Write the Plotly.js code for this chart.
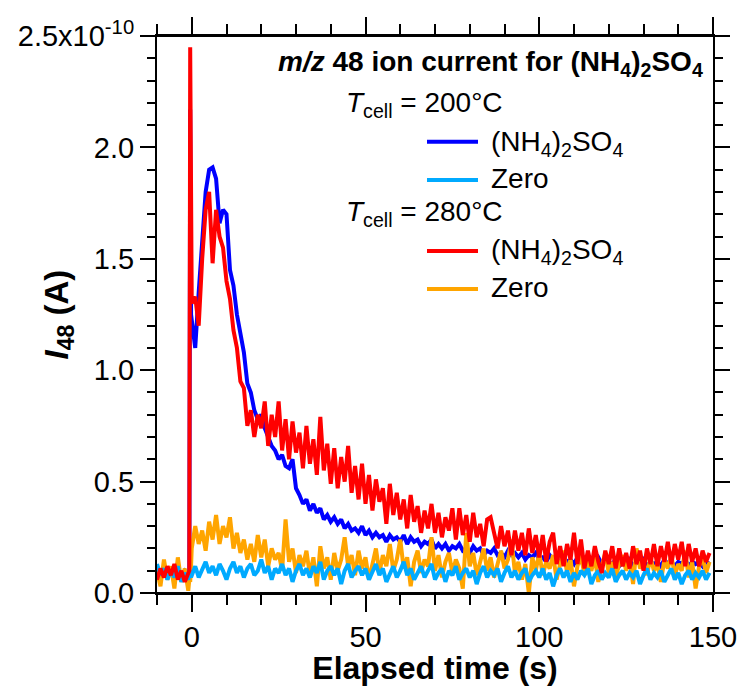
<!DOCTYPE html>
<html>
<head>
<meta charset="utf-8">
<script src="https://cdn.plot.ly/plotly-3.0.1.min.js"></script>
<style>html,body{margin:0;padding:0;background:#fff;}</style>
</head>
<body>
<div id="chart" style="width:740px;height:686px;"></div>
<script>
// Elapsed time (s)
const time = [-10,-9,-8,-7,-6,-5,-4,-3,-2,-1,-0.7,-0.45,-0.2,
0,1,2,3,4,5,6,7,8,9,10,11,12,13,14,15,16,17,18,19,20,21,22,23,24,25,26,27,28,29,
30,31,32,33,34,35,36,37,38,39,40,41,42,43,44,45,46,47,48,49,50,51,52,53,54,55,56,57,58,59,
60,61,62,63,64,65,66,67,68,69,70,71,72,73,74,75,76,77,78,79,80,81,82,83,84,85,86,87,88,89,
90,91,92,93,94,95,96,97,98,99,100,101,102,103,104,105,106,107,108,109,110,111,112,113,114,115,116,117,118,119,
120,121,122,123,124,125,126,127,128,129,130,131,132,133,134,135,136,137,138,139,140,141,142,143,144,145,146,147,148,149];

// I48 in units of 1e-10 A
const sulfate200 = [0.09,0.07,0.10,0.08,0.11,0.07,0.09,0.08,0.10,0.08,
0.09,2.17,1.25,
1.22,1.10,1.35,1.55,1.80,1.90,1.91,1.86,1.66,1.72,
1.70,1.45,1.38,1.25,1.16,1.08,0.94,0.90,0.82,0.78,
0.80,0.74,0.70,0.66,0.64,0.60,0.62,0.57,0.56,0.60,
0.47,0.44,0.40,0.42,0.37,0.40,0.36,0.38,0.33,0.35,
0.32,0.34,0.31,0.33,0.29,0.31,0.28,0.29,0.27,0.30,
0.26,0.28,0.25,0.27,0.25,0.26,0.23,0.26,0.24,0.25,
0.23,0.26,0.22,0.25,0.23,0.24,0.21,0.23,0.22,0.24,
0.20,0.22,0.20,0.22,0.19,0.21,0.20,0.22,0.19,0.20,
0.18,0.21,0.19,0.20,0.17,0.19,0.18,0.20,0.17,0.18,
0.16,0.19,0.17,0.18,0.16,0.18,0.15,0.17,0.16,0.18,
0.15,0.16,0.14,0.17,0.15,0.16,0.13,0.16,0.14,0.15,
0.13,0.16,0.14,0.15,0.13,0.15,0.14,0.16,0.13,0.15,
0.14,0.13,0.15,0.12,0.14,0.13,0.15,0.12,0.14,0.13,
0.15,0.12,0.14,0.13,0.14,0.12,0.15,0.13,0.14,0.12,
0.14,0.13,0.15,0.12,0.14,0.13,0.14,0.12,0.14,0.13];

const zero200 = [0.13,0.08,0.11,0.06,0.10,0.07,0.12,0.05,0.09,0.06,
0.08,0.10,0.07,
0.08,0.12,0.07,0.11,0.14,0.09,0.12,0.08,0.13,0.10,
0.06,0.11,0.14,0.09,0.12,0.07,0.11,0.13,0.08,0.10,
0.15,0.09,0.12,0.06,0.11,0.09,0.13,0.08,0.11,0.05,
0.10,0.13,0.08,0.11,0.07,0.12,0.09,0.14,0.06,0.10,
0.12,0.08,0.11,0.04,0.10,0.13,0.07,0.10,0.12,0.08,
0.11,0.06,0.10,0.13,0.08,0.11,0.05,0.09,0.12,0.07,
0.10,0.14,0.08,0.11,0.06,0.09,0.12,0.07,0.10,0.13,
0.06,0.09,0.11,0.05,0.10,0.08,0.12,0.06,0.09,0.11,
0.07,0.10,0.04,0.09,0.12,0.07,0.10,0.08,0.11,0.05,
0.09,0.12,0.07,0.10,0.06,0.09,0.11,0.05,0.08,0.10,
0.07,0.11,0.06,0.09,0.03,0.08,0.11,0.07,0.10,0.05,
0.09,0.06,0.10,0.08,0.11,0.04,0.08,0.10,0.06,0.09,
0.07,0.11,0.05,0.08,0.10,0.06,0.09,0.07,0.10,0.04,
0.08,0.11,0.06,0.09,0.07,0.10,0.05,0.08,0.11,0.06,
0.09,0.04,0.08,0.10,0.06,0.09,0.07,0.10,0.06,0.09];

const sulfate280 = [0.06,0.11,0.07,0.12,0.08,0.13,0.06,0.10,0.05,0.09,
0.10,2.45,1.35,
1.30,1.33,1.20,1.50,1.72,1.80,1.48,1.72,1.60,1.55,
1.40,1.32,1.18,1.10,0.95,0.92,0.75,0.82,0.70,0.80,
0.74,0.86,0.66,0.80,0.70,0.86,0.64,0.78,0.60,0.77,
0.63,0.72,0.56,0.75,0.58,0.69,0.53,0.79,0.55,0.67,
0.49,0.65,0.47,0.61,0.50,0.66,0.45,0.57,0.42,0.58,
0.40,0.53,0.37,0.51,0.41,0.47,0.31,0.49,0.35,0.45,
0.33,0.42,0.29,0.44,0.32,0.39,0.27,0.37,0.29,0.40,
0.27,0.36,0.25,0.34,0.28,0.38,0.24,0.38,0.26,0.35,
0.23,0.36,0.25,0.31,0.21,0.33,0.34,0.27,0.20,0.30,
0.21,0.28,0.17,0.28,0.19,0.27,0.17,0.29,0.18,0.26,
0.16,0.26,0.14,0.23,0.27,0.13,0.21,0.12,0.22,0.15,
0.27,0.13,0.24,0.11,0.19,0.12,0.21,0.14,0.09,0.19,
0.13,0.21,0.11,0.20,0.12,0.18,0.11,0.21,0.13,0.19,
0.10,0.20,0.13,0.22,0.12,0.21,0.14,0.23,0.13,0.22,
0.15,0.23,0.12,0.22,0.14,0.20,0.12,0.19,0.14,0.18];

const zero280 = [0.10,0.03,0.15,0.06,0.12,0.02,0.16,0.05,0.11,0.01,
0.06,0.05,0.12,
0.20,0.30,0.22,0.28,0.19,0.32,0.24,0.35,0.22,0.30,
0.25,0.34,0.20,0.27,0.18,0.24,0.15,0.22,0.14,0.26,
0.16,0.24,0.12,0.20,0.15,0.18,0.10,0.33,0.14,0.20,
0.09,0.17,0.12,0.19,0.08,0.16,0.03,0.21,0.11,0.16,
0.06,0.18,0.10,0.15,0.25,0.12,0.17,0.08,0.19,0.11,
0.16,0.06,0.14,0.20,0.09,0.17,0.12,0.22,0.10,0.15,
0.24,0.11,0.16,0.03,0.14,0.19,0.09,0.15,0.12,0.25,
0.10,0.17,0.07,0.14,0.18,0.09,0.15,0.11,0.02,0.27,
0.12,0.18,0.08,0.15,0.20,0.10,0.16,0.07,0.14,0.19,
0.11,0.15,0.24,0.09,0.14,0.06,0.13,0.00,0.16,0.10,
0.18,0.08,0.14,0.11,0.17,0.06,0.13,0.19,0.09,0.15,
0.03,0.12,0.17,0.08,0.14,0.10,0.16,0.05,0.12,0.18,
0.09,0.14,0.07,0.13,0.17,0.10,0.15,0.04,0.20,0.11,
0.14,0.08,0.16,0.10,0.13,0.05,0.15,0.11,0.17,0.08,
0.13,0.10,0.19,0.07,0.14,0.02,0.12,0.16,0.09,0.14];

const xTickVals = [0, 50, 100, 150];
const xTickText = ['0', '50', '100', '150'];
const yTickVals = [0, 0.5, 1.0, 1.5, 2.0, 2.5];
const yTickText = ['0.0', '0.5', '1.0', '1.5', '2.0', '2.5x10<sup>-10</sup>'];

const seriesNames = ['200°C (NH4)2SO4', '280°C Zero', '200°C Zero', '280°C (NH4)2SO4'];
const seriesColors = ['#0000ff', '#ffa500', '#00aaff', '#ff0000'];
const seriesData = [sulfate200, zero280, zero200, sulfate280];

const traces = seriesData.map((ys, i) => ({
  x: time, y: ys, type: 'scatter', mode: 'lines', name: seriesNames[i],
  line: {color: seriesColors[i], width: 4}, hoverinfo: 'skip'
}));

// paper coordinate helpers from plot-area pixels
const L = 157, R = 713, T = 36, B = 593;
const px = v => (v - L) / (R - L);
const py = v => (B - v) / (B - T);

const FAM = 'Arial, "Liberation Sans", sans-serif';
const legendFont = {family: FAM, size: 28, color: 'black'};
const annotations = [
  {text: '<b><i>m/z</i> 48 ion current for (NH<sub>4</sub>)<sub>2</sub>SO<sub>4</sub></b>', x: px(704), y: py(63), xanchor: 'right', yanchor: 'middle', font: legendFont},
  {text: '<i>T</i><sub>cell</sub> = 200°C', x: px(345), y: py(104), xanchor: 'left', yanchor: 'middle', font: legendFont},
  {text: '(NH<sub>4</sub>)<sub>2</sub>SO<sub>4</sub>', x: px(490), y: py(143), xanchor: 'left', yanchor: 'middle', font: legendFont},
  {text: 'Zero', x: px(490), y: py(178), xanchor: 'left', yanchor: 'middle', font: legendFont},
  {text: '<i>T</i><sub>cell</sub> = 280°C', x: px(345), y: py(213), xanchor: 'left', yanchor: 'middle', font: legendFont},
  {text: '(NH<sub>4</sub>)<sub>2</sub>SO<sub>4</sub>', x: px(490), y: py(252), xanchor: 'left', yanchor: 'middle', font: legendFont},
  {text: 'Zero', x: px(490), y: py(287), xanchor: 'left', yanchor: 'middle', font: legendFont},
  // y-axis title
  {text: '<b><i>I</i><sub>48</sub> (A)</b>', x: px(58), y: 0.5, xanchor: 'center', yanchor: 'middle', textangle: -90, font: {family: FAM, size: 33, color: 'black'}}
].map(a => Object.assign({xref: 'paper', yref: 'paper', showarrow: false, borderpad: 0}, a));

const legendLineY = [141.7, 180, 251, 289];
const legendColors = ['#0000ff', '#00aaff', '#ff0000', '#ffa500'];
const shapes = legendLineY.map((yy, i) => ({
  type: 'line', xref: 'paper', yref: 'paper', x0: px(427), x1: px(478), y0: py(yy), y1: py(yy),
  line: {color: legendColors[i], width: 4}
}));
// horizontal axis lines extend beyond the vertical axes
shapes.push({type: 'line', xref: 'paper', yref: 'paper', x0: px(142), x1: px(728), y0: 0, y1: 0, line: {color: 'black', width: 2}});
shapes.push({type: 'line', xref: 'paper', yref: 'paper', x0: px(142), x1: px(728), y0: 1, y1: 1, line: {color: 'black', width: 2}});

const axisCommon = {
  showgrid: false, zeroline: false, showline: true, linecolor: 'black', linewidth: 2,
  mirror: 'ticks', ticks: 'outside', tickcolor: 'black', tickwidth: 2, automargin: false,
  tickfont: {family: FAM, size: 29, color: 'black'}
};

const layout = {
  width: 740, height: 686,
  margin: {l: L, r: 740 - R, t: T, b: 686 - B, pad: 0},
  paper_bgcolor: 'white', plot_bgcolor: 'white',
  font: {family: FAM, color: 'black'},
  showlegend: false,
  xaxis: Object.assign({}, axisCommon, {
    range: [-10, 150], tickmode: 'array', tickvals: xTickVals, ticktext: xTickText, ticklen: 17,
    minor: {dtick: 10, tick0: 0, ticks: 'outside', ticklen: 10, tickwidth: 2, tickcolor: 'black', showgrid: false},
    title: {text: '<b>Elapsed time (s)</b>', font: {family: FAM, size: 32, color: 'black'}, standoff: 31}
  }),
  yaxis: Object.assign({}, axisCommon, {
    range: [0, 2.5], tickmode: 'array', tickvals: yTickVals, ticktext: yTickText, ticklen: 15,
    minor: {dtick: 0.1, tick0: 0, ticks: 'outside', ticklen: 8, tickwidth: 2, tickcolor: 'black', showgrid: false}
  }),
  annotations: annotations,
  shapes: shapes
};

Plotly.newPlot('chart', traces, layout, {displayModeBar: false, staticPlot: true});
</script>
</body>
</html>
